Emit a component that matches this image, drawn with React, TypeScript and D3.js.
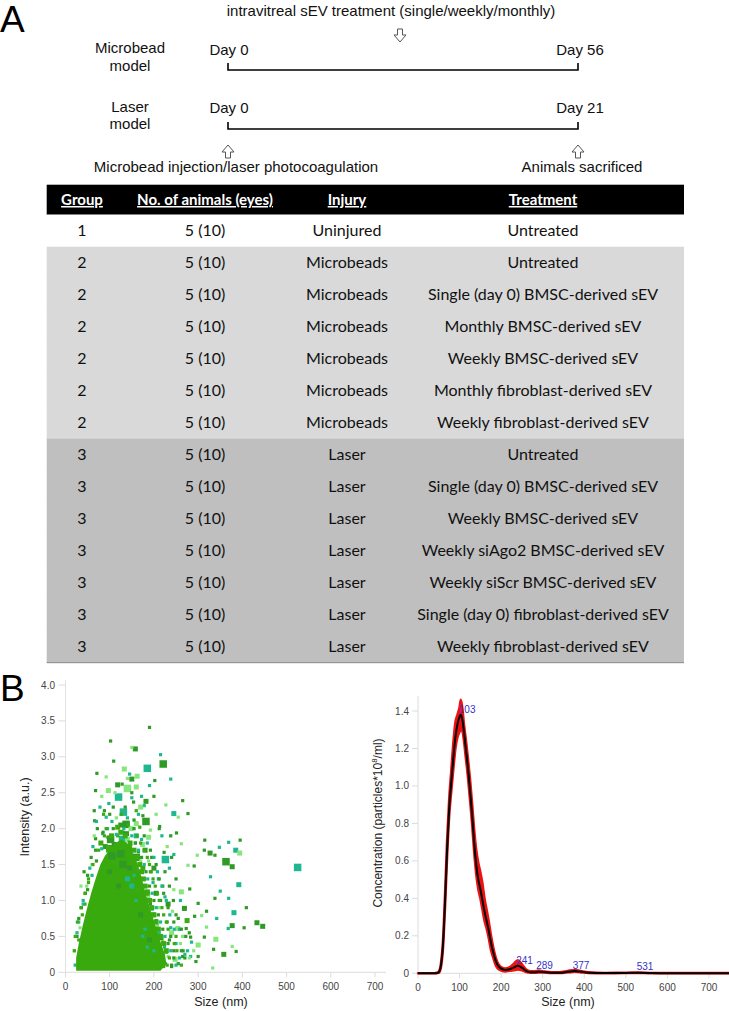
import React from "react";
import * as d3 from "d3";

// ---------- Panel A: timeline ----------
const timelineRows = [
  { label: ["Microbead", "model"], start: "Day 0", end: "Day 56" },
  { label: ["Laser", "model"], start: "Day 0", end: "Day 21" },
];
const treatmentNote = "intravitreal sEV treatment (single/weekly/monthly)";
const startNote = "Microbead injection/laser photocoagulation";
const endNote = "Animals sacrificed";

// ---------- Panel A: table ----------
const tableHeaders = ["Group", "No. of animals (eyes)", "Injury", "Treatment"];
const groups = [1, 2, 2, 2, 2, 2, 2, 3, 3, 3, 3, 3, 3, 3];
const animals = ["5 (10)", "5 (10)", "5 (10)", "5 (10)", "5 (10)", "5 (10)", "5 (10)", "5 (10)", "5 (10)", "5 (10)", "5 (10)", "5 (10)", "5 (10)", "5 (10)"];
const injuries = [
  "Uninjured", "Microbeads", "Microbeads", "Microbeads", "Microbeads", "Microbeads", "Microbeads",
  "Laser", "Laser", "Laser", "Laser", "Laser", "Laser", "Laser",
];
const treatments = [
  "Untreated",
  "Untreated",
  "Single (day 0) BMSC-derived sEV",
  "Monthly BMSC-derived sEV",
  "Weekly BMSC-derived sEV",
  "Monthly fibroblast-derived sEV",
  "Weekly fibroblast-derived sEV",
  "Untreated",
  "Single (day 0) BMSC-derived sEV",
  "Weekly BMSC-derived sEV",
  "Weekly siAgo2 BMSC-derived sEV",
  "Weekly siScr BMSC-derived sEV",
  "Single (day 0) fibroblast-derived sEV",
  "Weekly fibroblast-derived sEV",
];

// ---------- Panel B left: scatter (size nm, intensity, sizeClass, colourIdx) ----------
const scatterXTicks = [0, 100, 200, 300, 400, 500, 600, 700];
const scatterYTicks = [0, 0.5, 1, 1.5, 2, 2.5, 3, 3.5, 4];
// dense core outline (size nm, intensity)
const coreOutline: [number, number][] = [
  [24, 0.02], [215, 0.02], [228, 0.12], [225, 0.25], [216, 0.4], [209, 0.55], [201, 0.7], [193, 0.85],
  [186, 1.0], [179, 1.15], [173, 1.3], [166, 1.45], [159, 1.58], [149, 1.7], [139, 1.8], [126, 1.85],
  [113, 1.8], [101, 1.72], [89, 1.62], [79, 1.5], [69, 1.32], [59, 1.12], [49, 0.9], [39, 0.65], [30, 0.4], [24, 0.2],
];
const outerPoints: [number, number, number, number][] = [
  [190, 3.41, 0, 0], [102, 3.22, 0, 0], [158, 3.11, 1, 0], [150, 3.13, 0, 2], [215, 3.03, 0, 1],
  [109, 2.94, 0, 0], [221, 2.9, 2, 0], [185, 2.84, 2, 1], [71, 2.77, 0, 0], [133, 2.83, 1, 2],
  [145, 2.76, 0, 1], [162, 2.73, 1, 2], [150, 2.69, 1, 0], [92, 2.72, 0, 2], [202, 2.67, 0, 0],
  [238, 2.69, 0, 1], [118, 2.61, 1, 0], [97, 2.53, 1, 2], [140, 2.56, 2, 2], [68, 2.53, 0, 0],
  [120, 2.44, 2, 1], [150, 2.43, 0, 1], [265, 2.39, 0, 0], [182, 2.38, 1, 0], [154, 2.37, 0, 0],
  [227, 2.33, 0, 2], [178, 2.32, 0, 1], [277, 2.21, 0, 0], [245, 2.21, 1, 1], [131, 2.23, 2, 1],
  [108, 2.3, 0, 0], [65, 2.25, 0, 0], [255, 2.16, 0, 2], [92, 2.16, 0, 1], [182, 2.1, 2, 0],
  [137, 2.06, 2, 0], [160, 2.07, 1, 2], [66, 2.11, 0, 0], [213, 2.03, 0, 0], [192, 1.98, 0, 2],
  [138, 1.93, 1, 0], [251, 1.94, 0, 0], [238, 1.9, 0, 0], [84, 1.93, 0, 1], [188, 1.88, 1, 2],
  [102, 1.85, 2, 0], [129, 1.85, 2, 1], [174, 1.78, 1, 2], [68, 1.86, 0, 0], [262, 1.79, 0, 2],
  [315, 1.84, 0, 0], [395, 1.84, 0, 0], [369, 1.81, 0, 1], [348, 1.74, 0, 1], [223, 1.67, 0, 0],
  [245, 1.64, 0, 1], [298, 1.63, 0, 2], [314, 1.7, 0, 0], [327, 1.66, 1, 0], [338, 1.63, 0, 0],
  [385, 1.7, 1, 1], [394, 1.66, 1, 2], [108, 1.66, 2, 0], [160, 1.6, 2, 0], [226, 1.57, 2, 1],
  [277, 1.49, 0, 2], [291, 1.48, 0, 0], [363, 1.54, 2, 0], [377, 1.47, 1, 0], [525, 1.46, 2, 1],
  [328, 1.33, 0, 1], [392, 1.22, 1, 1], [350, 1.13, 0, 1], [281, 1.16, 0, 0], [262, 1.12, 1, 2],
  [409, 0.9, 0, 0], [369, 1.03, 0, 1], [338, 1.03, 0, 0], [300, 0.96, 0, 0], [319, 0.85, 0, 0],
  [381, 0.83, 1, 1], [269, 0.89, 1, 0], [292, 0.78, 0, 0], [308, 0.79, 0, 2], [342, 0.75, 0, 1],
  [433, 0.69, 1, 0], [446, 0.64, 1, 0], [404, 0.62, 0, 0], [377, 0.65, 1, 0], [368, 0.61, 0, 1],
  [319, 0.63, 0, 2], [273, 0.61, 0, 0], [254, 0.61, 1, 2], [340, 0.46, 1, 2], [300, 0.38, 1, 2],
  [283, 0.49, 0, 0], [314, 0.49, 0, 0], [377, 0.36, 0, 2], [386, 0.29, 0, 0], [358, 0.25, 1, 0],
  [335, 0.32, 0, 0], [265, 0.22, 0, 0], [283, 0.22, 0, 1], [333, 0.06, 0, 2], [240, 0.08, 0, 0],
  [300, 0.22, 0, 0],
];
const edgePoints: [number, number, number, number][] = [
  [22, 0.1, 0, 1], [20, 0.3, 0, 2], [26, 0.5, 0, 0], [30, 0.7, 0, 1], [33, 0.62, 0, 2], [36, 0.9, 0, 0],
  [40, 1.0, 0, 1], [38, 0.8, 0, 3], [45, 1.1, 0, 0], [48, 1.2, 0, 2], [50, 1.35, 0, 0], [55, 1.45, 0, 1],
  [58, 1.6, 0, 0], [60, 1.5, 0, 2], [52, 1.25, 0, 3], [44, 0.95, 0, 3], [30, 0.45, 0, 3], [35, 1.2, 0, 2],
  [42, 1.4, 0, 0], [62, 1.75, 0, 1], [68, 1.7, 0, 0], [65, 1.9, 0, 2], [72, 2.0, 0, 0], [70, 2.1, 0, 1],
  [80, 1.8, 1, 3], [85, 1.95, 0, 0], [90, 1.75, 1, 0], [78, 2.3, 0, 1], [88, 2.25, 0, 0], [82, 2.45, 0, 2],
  [95, 2.0, 0, 1], [100, 1.72, 2, 3], [110, 1.78, 1, 0], [118, 1.9, 0, 3], [128, 1.8, 1, 1], [145, 1.75, 1, 3],
  [150, 1.7, 0, 0], [158, 1.8, 0, 1], [165, 1.68, 0, 0], [170, 1.55, 0, 2], [175, 1.45, 1, 3], [178, 1.3, 0, 0],
  [182, 1.2, 0, 1], [185, 1.12, 1, 3], [188, 1.05, 0, 2], [192, 0.95, 0, 0], [196, 0.88, 0, 1], [200, 0.8, 1, 3],
  [205, 0.72, 0, 0], [208, 0.65, 0, 2], [212, 0.55, 0, 1], [216, 0.48, 1, 0], [220, 0.42, 0, 3], [224, 0.35, 0, 1],
  [228, 0.28, 0, 0], [232, 0.22, 0, 2], [226, 0.12, 0, 1], [222, 0.08, 0, 3], [235, 0.45, 0, 0], [240, 0.55, 1, 2],
  [238, 0.62, 0, 1], [230, 0.7, 0, 0], [245, 0.3, 0, 0], [250, 0.4, 0, 1], [248, 0.18, 1, 2], [210, 0.9, 0, 2],
  [215, 1.0, 0, 0], [205, 1.1, 1, 0], [198, 1.25, 0, 1], [192, 1.4, 0, 0], [188, 1.55, 0, 2], [195, 1.6, 0, 0],
  [180, 1.7, 1, 0], [172, 1.85, 0, 1], [200, 1.45, 1, 0], [210, 1.3, 0, 1], [220, 1.2, 0, 0], [225, 1.05, 0, 1],
  [232, 0.95, 1, 0], [242, 0.85, 0, 2], [255, 0.75, 0, 0], [258, 0.6, 0, 1], [265, 0.5, 0, 2], [262, 0.3, 0, 0],
  [270, 0.25, 0, 1], [255, 0.12, 0, 0], [140, 1.85, 1, 2], [160, 1.9, 1, 1], [130, 1.95, 0, 0], [105, 2.1, 0, 1],
  [115, 2.15, 0, 2], [125, 2.05, 1, 0], [148, 2.0, 1, 2], [155, 2.12, 0, 0], [165, 2.2, 0, 1], [170, 2.3, 1, 2],
  [135, 2.3, 0, 0], [98, 2.35, 0, 1], [112, 2.5, 0, 2], [150, 2.5, 0, 0], [160, 2.58, 1, 2], [172, 2.45, 0, 1],
  [128, 2.62, 0, 0], [140, 2.7, 0, 2], [190, 2.6, 0, 1], [200, 2.45, 0, 0], [205, 2.2, 0, 2], [212, 2.0, 0, 0],
  [218, 1.9, 0, 1], [230, 1.75, 0, 2], [240, 1.6, 0, 0], [235, 1.45, 0, 1], [250, 1.3, 0, 0], [245, 1.15, 0, 2],
  [260, 1.0, 0, 1], [268, 0.88, 0, 0], [275, 0.72, 1, 3], [280, 0.55, 0, 0], [285, 0.42, 0, 1], [290, 0.3, 0, 2],
  [295, 0.15, 0, 0],
];
const haloPoints: [number, number, number, number][] = [
  [230, 0.1, 0, 3], [240, 0.1, 0, 0], [250, 0.1, 0, 1], [262, 0.1, 0, 3],
  [235, 0.2, 0, 3], [245, 0.2, 0, 0], [258, 0.2, 0, 1], [270, 0.2, 0, 0], [280, 0.2, 0, 2],
  [228, 0.3, 1, 3], [238, 0.3, 0, 1], [252, 0.3, 0, 3], [266, 0.3, 0, 0], [276, 0.3, 0, 1],
  [222, 0.4, 1, 3], [232, 0.4, 0, 0], [246, 0.4, 0, 3], [260, 0.4, 0, 2],
  [215, 0.5, 1, 3], [225, 0.5, 0, 1], [238, 0.5, 0, 0], [250, 0.5, 0, 3], [272, 0.5, 0, 0],
  [210, 0.6, 1, 3], [220, 0.6, 0, 0], [232, 0.6, 0, 3], [246, 0.6, 0, 1], [262, 0.6, 0, 0],
  [205, 0.7, 1, 3], [215, 0.7, 0, 1], [228, 0.7, 0, 3], [245, 0.7, 0, 0],
  [198, 0.8, 1, 3], [210, 0.8, 0, 0], [222, 0.8, 0, 3], [236, 0.8, 0, 1], [250, 0.8, 0, 0],
  [195, 0.9, 1, 3], [205, 0.9, 0, 1], [218, 0.9, 0, 3], [232, 0.9, 0, 0],
  [190, 1.0, 1, 3], [200, 1.0, 0, 0], [212, 1.0, 0, 3], [228, 1.0, 0, 1], [244, 1.0, 0, 0],
  [185, 1.1, 1, 3], [196, 1.1, 0, 1], [208, 1.1, 0, 3], [222, 1.1, 0, 0],
  [180, 1.2, 1, 3], [190, 1.2, 0, 0], [203, 1.2, 0, 3], [218, 1.2, 0, 1], [235, 1.2, 0, 0],
  [176, 1.3, 1, 3], [186, 1.3, 0, 1], [198, 1.3, 0, 3], [212, 1.3, 0, 0],
  [172, 1.4, 1, 3], [182, 1.4, 0, 0], [194, 1.4, 0, 3], [208, 1.4, 0, 1], [225, 1.4, 0, 0],
  [168, 1.5, 1, 3], [178, 1.5, 0, 1], [190, 1.5, 0, 3], [205, 1.5, 0, 0],
  [162, 1.6, 1, 3], [172, 1.6, 0, 0], [185, 1.6, 0, 3], [200, 1.6, 0, 1],
  [155, 1.7, 1, 3], [165, 1.7, 0, 1], [178, 1.7, 0, 3], [192, 1.7, 0, 0],
  [146, 1.8, 1, 3], [158, 1.8, 0, 0], [170, 1.8, 0, 3], [185, 1.8, 0, 1],
  [135, 1.9, 1, 3], [150, 1.9, 0, 1], [162, 1.9, 0, 3], [178, 1.9, 0, 0],
  [20, 0.3, 0, 3], [22, 0.5, 0, 3], [26, 0.55, 0, 1], [27, 0.7, 0, 3], [30, 0.75, 0, 0], [35, 0.9, 0, 3],
  [40, 0.95, 0, 1], [44, 1.1, 0, 3], [50, 1.15, 0, 0], [52, 1.3, 0, 3], [60, 1.35, 0, 1], [62, 1.5, 0, 3],
  [70, 1.55, 0, 0], [75, 1.7, 0, 3], [82, 1.72, 0, 1], [88, 1.9, 0, 3], [96, 1.88, 0, 0], [104, 1.9, 1, 3],
  [115, 1.92, 0, 1], [125, 1.95, 1, 3], [92, 2.0, 0, 3], [108, 2.0, 0, 0], [118, 2.02, 1, 3], [132, 2.0, 0, 1],
  [142, 2.05, 0, 3], [155, 2.0, 0, 0], [168, 2.02, 0, 3], [86, 2.2, 0, 3], [100, 2.2, 0, 0], [126, 2.2, 0, 3],
  [140, 2.15, 0, 1], [160, 2.25, 0, 3], [175, 2.18, 0, 0],
];
const innerPoints: [number, number, number, number][] = [
  [120, 1.2, 1, 0], [140, 1.3, 1, 1], [100, 1.4, 1, 0], [130, 1.5, 2, 0], [150, 1.2, 1, 1], [160, 1.0, 0, 1],
  [170, 0.8, 1, 0], [180, 0.6, 0, 1], [190, 0.45, 1, 0], [200, 0.3, 0, 1], [110, 1.55, 2, 3], [145, 1.45, 1, 0],
  [155, 1.35, 0, 1], [165, 1.15, 1, 3], [185, 0.35, 0, 1], [175, 0.5, 0, 1], [125, 1.65, 2, 0], [105, 1.62, 2, 0],
];
const scatterColours = ["#2f9b26", "#1db88f", "#85e67c", "#3aab10"];
const squareSizes = [3.2, 5, 7.5];

// ---------- Panel B right: size distribution ----------
const distXTicks = [0, 100, 200, 300, 400, 500, 600, 700];
const distYTicks = [0, 0.2, 0.4, 0.6, 0.8, 1.0, 1.2, 1.4];
const distSize = [0, 40, 45, 50, 55, 60, 65, 70, 75, 80, 85, 90, 95, 100, 103, 107, 110, 115, 120, 125, 130, 135, 140, 145, 150, 155, 160, 165, 170, 175, 180, 185, 190, 195, 200, 210, 220, 230, 240, 250, 260, 270, 280, 290, 300, 320, 340, 360, 377, 390, 410, 450, 500, 531, 560, 600, 750];
const distMean = [0, 0, 0.001, 0.006, 0.04, 0.15, 0.38, 0.66, 0.88, 1.02, 1.15, 1.26, 1.33, 1.37, 1.38, 1.35, 1.3, 1.2, 1.1, 0.98, 0.85, 0.7, 0.58, 0.5, 0.45, 0.39, 0.33, 0.28, 0.23, 0.17, 0.12, 0.08, 0.05, 0.035, 0.025, 0.018, 0.022, 0.03, 0.04, 0.03, 0.013, 0.006, 0.006, 0.008, 0.007, 0.003, 0.003, 0.008, 0.012, 0.009, 0.003, 0.001, 0.002, 0.003, 0.001, 0, 0];
const distUpper = [0, 0, 0.003, 0.01, 0.05, 0.17, 0.42, 0.71, 0.93, 1.08, 1.23, 1.34, 1.38, 1.42, 1.46, 1.41, 1.34, 1.25, 1.15, 1.04, 0.91, 0.77, 0.66, 0.59, 0.54, 0.48, 0.4, 0.34, 0.28, 0.21, 0.15, 0.1, 0.065, 0.045, 0.033, 0.025, 0.032, 0.05, 0.07, 0.048, 0.02, 0.011, 0.011, 0.015, 0.011, 0.005, 0.005, 0.012, 0.018, 0.013, 0.005, 0.002, 0.003, 0.004, 0.002, 0.001, 0.001];
const distLower = [0, 0, 0, 0.003, 0.03, 0.13, 0.35, 0.62, 0.84, 0.97, 1.09, 1.2, 1.26, 1.29, 1.3, 1.29, 1.25, 1.15, 1.05, 0.93, 0.8, 0.65, 0.53, 0.45, 0.4, 0.34, 0.28, 0.24, 0.19, 0.13, 0.09, 0.055, 0.03, 0.02, 0.015, 0.01, 0.013, 0.016, 0.02, 0.016, 0.007, 0.003, 0.003, 0.004, 0.004, 0.001, 0.001, 0.005, 0.008, 0.006, 0.001, 0, 0.001, 0.002, 0, 0, 0];
const peakSizes = [103, 241, 289, 377, 531];
const peakLabelY = [1.385, 0.045, 0.018, 0.018, 0.01];

const SANS = "'Liberation Sans', Arial, sans-serif";
const TABLE_FONT = "Lato, 'Open Sans', sans-serif";

function blockArrow(cx: number, top: number, up = false) {
  const h = 13, sw = 2.5, hw = 6, stem = 6;
  if (!up)
    return `M${cx - sw},${top} L${cx + sw},${top} L${cx + sw},${top + stem} L${cx + hw},${top + stem} L${cx},${top + h} L${cx - hw},${top + stem} L${cx - sw},${top + stem} Z`;
  const b = top + h;
  return `M${cx - sw},${b} L${cx + sw},${b} L${cx + sw},${b - stem} L${cx + hw},${b - stem} L${cx},${top} L${cx - hw},${b - stem} L${cx - sw},${b - stem} Z`;
}

export default function App() {
  const xS = d3.scaleLinear().domain([0, 700]).range([65.5, 375]);
  const yS = d3.scaleLinear().domain([0, 4]).range([972.3, 685]);
  const xR = d3.scaleLinear().domain([0, 700]).range([418, 709]);
  const yR = d3.scaleLinear().domain([0, 1.4]).range([973.3, 711]);

  const corePath = d3.line<[number, number]>().x((d) => xS(d[0])).y((d) => yS(d[1])).curve(d3.curveLinearClosed)(coreOutline) || "";

  const idx = distSize.map((_, i) => i);
  const bandPath = d3.area<number>().x((i) => xR(distSize[i])).y0((i) => yR(distLower[i])).y1((i) => yR(distUpper[i])).curve(d3.curveMonotoneX)(idx) || "";
  const meanPath = d3.line<number>().x((i) => xR(distSize[i])).y((i) => yR(distMean[i])).curve(d3.curveMonotoneX)(idx) || "";

  const rowTop = 214.7, rowH = 32, tableX = 46.7, tableW = 637.3;
  const colX = [82, 205, 347, 543];
  const bandFill = (g: number) => (g === 1 ? "#ffffff" : g === 2 ? "#d9d9d9" : "#bfbfbf");

  const bracketL = 228, bracketR = 578;
  const rowLines = [70, 129];
  const rowDayBase = [55, 113];
  const rowLabelBase = [[53, 71], [112, 129]];

  const renderSquares = (pts: [number, number, number, number][], key: string) =>
    pts.map((p, i) => {
      const s = squareSizes[p[2]];
      return <rect key={key + i} x={xS(p[0]) - s / 2} y={yS(p[1]) - s / 2} width={s} height={s} fill={scatterColours[p[3]]} />;
    });

  const fmtY = (v: number) => (v === 0 ? "0" : v.toFixed(1));
  const FS = 15;

  return (
    <svg width={729} height={1011} style={{ position: "absolute", left: 0, top: 0, background: "#fff" }} fontFamily={SANS}>
      {/* ---- Panel A ---- */}
      <text x={0} y={32} fontSize={37} fill="#000">A</text>
      <text x={391} y={16} fontSize={FS} textAnchor="middle" fill="#111">{treatmentNote}</text>
      <path d={blockArrow(400, 29)} fill="#fff" stroke="#555" strokeWidth={1} />
      {timelineRows.map((r, i) => (
        <g key={"tl" + i}>
          <text x={130} y={rowLabelBase[i][0]} fontSize={FS} textAnchor="middle" fill="#111">{r.label[0]}</text>
          <text x={130} y={rowLabelBase[i][1]} fontSize={FS} textAnchor="middle" fill="#111">{r.label[1]}</text>
          <text x={bracketL + 1} y={rowDayBase[i]} fontSize={FS} textAnchor="middle" fill="#111">{r.start}</text>
          <text x={bracketR + 2} y={rowDayBase[i]} fontSize={FS} textAnchor="middle" fill="#111">{r.end}</text>
          <path d={`M${bracketL},${rowLines[i] - 7} V${rowLines[i]} H${bracketR} V${rowLines[i] - 7}`} fill="none" stroke="#000" strokeWidth={1.6} />
        </g>
      ))}
      <path d={blockArrow(bracketL, 145, true)} fill="#fff" stroke="#555" strokeWidth={1} />
      <path d={blockArrow(bracketR, 145, true)} fill="#fff" stroke="#555" strokeWidth={1} />
      <text x={236} y={172} fontSize={FS} textAnchor="middle" fill="#111">{startNote}</text>
      <text x={582} y={172} fontSize={FS} textAnchor="middle" fill="#111">{endNote}</text>

      {/* table */}
      <rect x={tableX} y={184.7} width={tableW} height={30} fill="#000" />
      {tableHeaders.map((h, j) => (
        <text key={"h" + j} x={colX[j]} y={205} fontSize={15} fontWeight={700} fill="#fff" textAnchor="middle" fontFamily={TABLE_FONT} textDecoration="underline">{h}</text>
      ))}
      {groups.map((g, i) => {
        const y0 = rowTop + rowH * i;
        const cells = [String(g), animals[i], injuries[i], treatments[i]];
        return (
          <g key={"r" + i}>
            <rect x={tableX} y={y0} width={tableW} height={rowH + 0.3} fill={bandFill(g)} />
            {cells.map((c, j) => (
              <text key={j} x={colX[j]} y={y0 + 21.5} fontSize={16} fill="#111" textAnchor="middle" fontFamily={TABLE_FONT}>{c}</text>
            ))}
          </g>
        );
      })}
      <line x1={tableX} x2={tableX + tableW} y1={rowTop + rowH * groups.length} y2={rowTop + rowH * groups.length} stroke="#8c8c8c" strokeWidth={1} />

      {/* ---- Panel B ---- */}
      <text x={0} y={701} fontSize={37} fill="#000">B</text>

      {/* scatter axes */}
      <line x1={xS(0)} x2={xS(0)} y1={yS(4) - 5} y2={yS(0)} stroke="#e3e3e3" />
      <line x1={xS(0)} x2={xS(725)} y1={yS(0)} y2={yS(0)} stroke="#dcdcdc" />
      {scatterYTicks.map((t) => (
        <g key={"sy" + t}>
          <line x1={xS(0) - 7} x2={xS(0)} y1={yS(t)} y2={yS(t)} stroke="#dcdcdc" />
          <text x={55} y={yS(t) + 3.5} fontSize={10} fill="#444" textAnchor="end">{fmtY(t)}</text>
        </g>
      ))}
      {scatterXTicks.map((t) => (
        <g key={"sx" + t}>
          <line x1={xS(t)} x2={xS(t)} y1={yS(0)} y2={yS(0) + 5} stroke="#dcdcdc" />
          <text x={xS(t)} y={990} fontSize={10} fill="#444" textAnchor="middle">{t}</text>
        </g>
      ))}
      <text x={221} y={1006} fontSize={12.5} fill="#222" textAnchor="middle">Size (nm)</text>
      <text transform={`translate(29,817) rotate(-90)`} fontSize={12.5} fill="#222" textAnchor="middle">Intensity (a.u.)</text>

      {/* scatter marks */}
      {renderSquares(outerPoints, "o")}
      {renderSquares(edgePoints, "e")}
      {renderSquares(haloPoints, "h")}
      <path d={corePath} fill="#39aa0e" />
      {renderSquares(innerPoints, "i")}

      {/* distribution axes */}
      <line x1={xR(0)} x2={xR(0)} y1={yR(1.4) - 15} y2={yR(0)} stroke="#dcdcdc" />
      <line x1={xR(0)} x2={729} y1={yR(0)} y2={yR(0)} stroke="#dcdcdc" />
      {distYTicks.map((t) => (
        <g key={"dy" + t}>
          <line x1={xR(0) - 6} x2={xR(0)} y1={yR(t)} y2={yR(t)} stroke="#dcdcdc" />
          <text x={409} y={yR(t) + 3.5} fontSize={10} fill="#444" textAnchor="end">{fmtY(t)}</text>
        </g>
      ))}
      {distXTicks.map((t) => (
        <g key={"dx" + t}>
          <line x1={xR(t)} x2={xR(t)} y1={yR(0)} y2={yR(0) + 5} stroke="#dcdcdc" />
          <text x={xR(t)} y={990.5} fontSize={10} fill="#444" textAnchor="middle">{t}</text>
        </g>
      ))}
      <text x={568} y={1006} fontSize={12.5} fill="#222" textAnchor="middle">Size (nm)</text>
      <text transform={`translate(382,823) rotate(-90)`} fontSize={12} fill="#222" textAnchor="middle">
        Concentration (particles*10<tspan dy={-5} fontSize={8}>8</tspan><tspan dy={5}>/ml)</tspan>
      </text>

      <path d={bandPath} fill="#ee1111" stroke="#ee1111" strokeWidth={2.5} strokeLinejoin="round" />
      <path d={meanPath} fill="none" stroke="#000" strokeWidth={2} />
      {peakSizes.map((p, i) => (
        <text key={"pk" + p} x={xR(p) - 2} y={yR(peakLabelY[i]) - 1} fontSize={10} fill="#3333cc">{p}</text>
      ))}
    </svg>
  );
}
